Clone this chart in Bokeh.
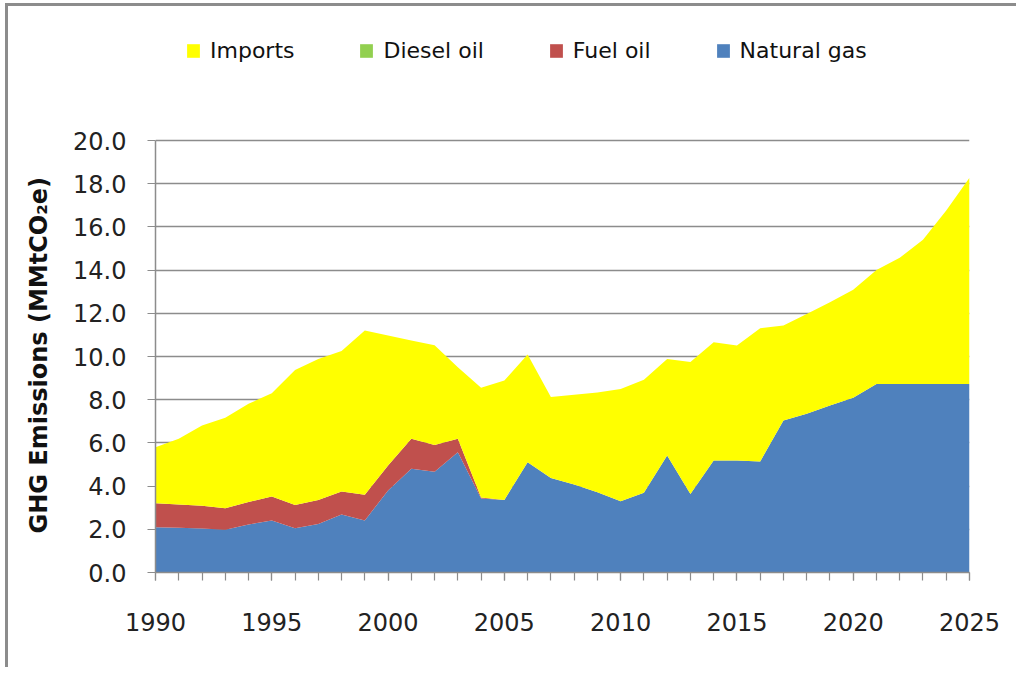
from bokeh.plotting import figure
from bokeh.models import (ColumnDataSource, Legend, LegendItem, FixedTicker,
                          NumeralTickFormatter, Range1d, Title)
from bokeh.embed import file_html
from bokeh.resources import INLINE

years = [1990, 1991, 1992, 1993, 1994, 1995, 1996, 1997, 1998, 1999,
         2000, 2001, 2002, 2003, 2004, 2005, 2006, 2007, 2008, 2009,
         2010, 2011, 2012, 2013, 2014, 2015, 2016, 2017, 2018, 2019,
         2020, 2021, 2022, 2023, 2024, 2025]
natural_gas = [2.10, 2.07, 2.04, 1.98, 2.22, 2.41, 2.05, 2.25, 2.69, 2.41,
               3.80, 4.80, 4.66, 5.57, 3.43, 3.36, 5.10, 4.38, 4.07, 3.72,
               3.30, 3.69, 5.42, 3.64, 5.19, 5.18, 5.14, 7.04, 7.35, 7.73,
               8.09, 8.73, 8.73, 8.73, 8.73, 8.73]
fuel_oil = [1.11, 1.08, 1.05, 1.00, 1.04, 1.11, 1.08, 1.11, 1.06, 1.19,
            1.15, 1.39, 1.24, 0.62, 0.04, 0.00, 0.00, 0.00, 0.00, 0.00,
            0.00, 0.00, 0.00, 0.00, 0.00, 0.00, 0.00, 0.00, 0.00, 0.00,
            0.00, 0.00, 0.00, 0.00, 0.00, 0.00]
diesel_oil = [0.00, 0.00, 0.00, 0.00, 0.00, 0.00, 0.00, 0.00, 0.00, 0.00,
              0.00, 0.00, 0.00, 0.00, 0.00, 0.00, 0.00, 0.00, 0.00, 0.00,
              0.00, 0.00, 0.00, 0.00, 0.00, 0.00, 0.00, 0.00, 0.00, 0.00,
              0.00, 0.00, 0.00, 0.00, 0.00, 0.00]
imports = [2.59, 3.04, 3.71, 4.18, 4.55, 4.78, 6.25, 6.53, 6.50, 7.60,
           6.02, 4.55, 4.62, 3.31, 5.08, 5.53, 4.99, 3.74, 4.16, 4.61,
           5.20, 5.23, 4.47, 6.10, 5.47, 5.33, 6.17, 4.39, 4.62, 4.78,
           5.00, 5.28, 5.84, 6.67, 8.03, 9.54]

series_names = ["Natural gas", "Fuel oil", "Diesel oil", "Imports"]
series_colors = ["#4F81BD", "#C0504D", "#92D050", "#FFFF00"]
y_ticks = [0, 2, 4, 6, 8, 10, 12, 14, 16, 18, 20]
x_label_ticks = [1990, 1995, 2000, 2005, 2010, 2015, 2020, 2025]

source = ColumnDataSource(dict(year=years, gas=natural_gas, fuel=fuel_oil,
                               diesel=diesel_oil, imports=imports))

FONT = "DejaVu Sans"
PX_PER_UNIT = 21.6
FRAME_TOP = 10      # frame starts here; y=20 sits at pixel row 140
Y_TOP = 20 + (140 - FRAME_TOP) / PX_PER_UNIT

p = figure(width=1016, height=667, output_backend="svg", toolbar_location=None,
           x_range=Range1d(1990, 2025), y_range=Range1d(0, Y_TOP),
           min_border_left=155, min_border_right=47, min_border_top=FRAME_TOP,
           min_border_bottom=95)
p.border_fill_color = None
p.styles = {
    "background": ("linear-gradient(#8c8c8c, #8c8c8c) 5px 3px / 3px 100% no-repeat, "
                   "linear-gradient(#8c8c8c, #8c8c8c) 5px 3px / 100% 3px no-repeat, white"),
}

renderers = p.varea_stack(["gas", "fuel", "diesel", "imports"], x="year",
                          color=series_colors, source=source)

p.outline_line_color = None
p.background_fill_color = "white"

p.xgrid.grid_line_color = None
p.ygrid.grid_line_color = "#8c8c8c"
p.ygrid.grid_line_width = 1.5
p.ygrid.ticker = FixedTicker(ticks=y_ticks)

p.yaxis.ticker = FixedTicker(ticks=y_ticks)
p.yaxis.bounds = (0, 20)
p.yaxis.formatter = NumeralTickFormatter(format="0.0")
p.xaxis.ticker = FixedTicker(ticks=x_label_ticks, minor_ticks=years)

for ax in (p.xaxis[0], p.yaxis[0]):
    ax.axis_line_color = "#8c8c8c"
    ax.axis_line_width = 1.5
    ax.major_tick_line_color = "#8c8c8c"
    ax.major_tick_line_width = 1.2
    ax.minor_tick_line_color = "#8c8c8c"
    ax.minor_tick_line_width = 1.2
    ax.major_tick_in = 0
    ax.major_tick_out = 8
    ax.major_label_text_font = FONT
    ax.major_label_text_font_size = "24px"
    ax.major_label_text_color = "#222222"

p.yaxis.minor_tick_line_color = None
p.xaxis.minor_tick_in = 0
p.xaxis.minor_tick_out = 8
p.yaxis.major_label_standoff = 21
p.xaxis.major_label_standoff = 32

ylabel = Title(text="GHG Emissions (MMtCO\u2082e)", align="left", offset=39,
               text_font=FONT, text_font_style="bold", text_font_size="24px",
               text_color="#111111", standoff=36)
p.add_layout(ylabel, "left")

legend_order = [3, 2, 1, 0]
legend = Legend(items=[LegendItem(label=series_names[i], renderers=[renderers[i]])
                       for i in legend_order],
                location=(30, 509), orientation="horizontal",
                glyph_width=16, glyph_height=17, label_standoff=9, spacing=64,
                padding=0, margin=0, border_line_alpha=0, background_fill_alpha=0,
                label_text_font=FONT, label_text_font_size="22px",
                label_text_color="#111111")
p.add_layout(legend, "center")

open("out.html", "w").write(file_html(p, INLINE))
